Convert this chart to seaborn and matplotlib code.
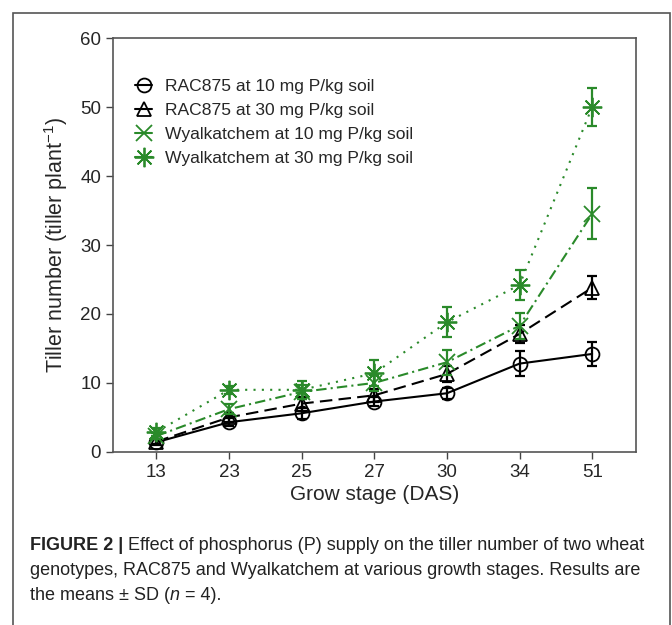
import matplotlib
matplotlib.use("Agg")
import matplotlib.pyplot as plt
from matplotlib.lines import Line2D
from matplotlib.patches import Rectangle
import pandas as pd
import seaborn as sns

# Grow stages (DAS) and treatment means / SD
stages = ['13', '23', '25', '27', '30', '34', '51']
rac10_mean = [1.4, 4.3, 5.6, 7.3, 8.5, 12.8, 14.2]
rac10_sd = [0.4, 0.6, 0.8, 0.6, 0.8, 1.8, 1.7]
rac30_mean = [1.5, 5.0, 7.0, 8.2, 11.3, 17.1, 23.8]
rac30_sd = [0.4, 0.7, 1.0, 0.9, 1.2, 1.3, 1.7]
wy10_mean = [2.3, 6.2, 8.7, 10.0, 13.0, 18.3, 34.5]
wy10_sd = [0.5, 0.7, 1.0, 1.2, 1.8, 1.9, 3.7]
wy30_mean = [2.9, 9.0, 9.0, 11.4, 18.8, 24.2, 50.0]
wy30_sd = [0.6, 0.6, 1.3, 1.9, 2.2, 2.2, 2.7]

labels = ['RAC875 at 10 mg P/kg soil', 'RAC875 at 30 mg P/kg soil',
          'Wyalkatchem at 10 mg P/kg soil', 'Wyalkatchem at 30 mg P/kg soil']
means = [rac10_mean, rac30_mean, wy10_mean, wy30_mean]
sds = [rac10_sd, rac30_sd, wy10_sd, wy30_sd]

green = '#2a8a2a'
palette = dict(zip(labels, ['black', 'black', green, green]))
markers = dict(zip(labels, ['o', '^', 'x', (8, 2, 0)]))
msizes = dict(zip(labels, [10, 10, 12, 14]))
linestyles = dict(zip(labels, ['-', (0, (6, 3)), (0, (5, 2, 1, 2)), (0, (1, 3))]))

rows = []
for lab, m, s in zip(labels, means, sds):
    for i, st in enumerate(stages):
        rows.append({'pos': i, 'stage': st, 'Treatment': lab, 'Tiller': m[i], 'SD': s[i]})
df = pd.DataFrame(rows)

sns.set_style('ticks')
plt.rcParams['font.family'] = ['Liberation Sans', 'DejaVu Sans']
plt.rcParams['mathtext.fontset'] = 'custom'
plt.rcParams['mathtext.rm'] = 'Liberation Sans'

fig = plt.figure(figsize=(6.72, 6.25), dpi=100)
ax = fig.add_axes([0.168, 0.277, 0.778, 0.662])

for lab in labels:
    sub = df[df['Treatment'] == lab]
    sns.lineplot(data=sub, x='pos', y='Tiller', color=palette[lab], marker=markers[lab],
                 linestyle=linestyles[lab], linewidth=1.5, markersize=msizes[lab],
                 markerfacecolor='none', markeredgecolor=palette[lab],
                 markeredgewidth=1.3, errorbar=None, ax=ax)
    ax.errorbar(sub['pos'], sub['Tiller'], yerr=sub['SD'], fmt='none',
                ecolor=palette[lab], elinewidth=1.6, capsize=3.5, capthick=1.6)

ax.set_xlim(-0.6, 6.6)
ax.set_ylim(0, 60)
ax.set_xticks(range(len(stages)))
ax.set_xticklabels(stages)
ax.set_yticks([0, 10, 20, 30, 40, 50, 60])
ax.tick_params(axis='both', labelsize=13.5, length=5, width=1, color='#444444')
for sp in ax.spines.values():
    sp.set_visible(True)
    sp.set_color('#555555')
    sp.set_linewidth(1.2)
ax.set_xlabel('Grow stage (DAS)', fontsize=15, labelpad=3)
ax.set_ylabel('Tiller number (tiller plant$^{-1}$)', fontsize=15.5, labelpad=7)

handles = [Line2D([], [], color=palette[l], marker=markers[l], markersize=msizes[l],
                  markerfacecolor='none', markeredgewidth=1.3, linewidth=1.5)
           for l in labels]
ax.legend(handles, labels, loc='upper left', bbox_to_anchor=(0.012, 0.94),
          frameon=False, fontsize=12.6, handlelength=1.0, handletextpad=0.7,
          labelspacing=0.5)

# outer frame around figure and caption
fig.patches.append(Rectangle((13 / 672, -0.05), (670 - 13) / 672, 1.05 - 13 / 625,
                             transform=fig.transFigure, fill=False,
                             edgecolor='#555555', linewidth=1.2))

# caption with mixed styles
cap_font = ['Liberation Sans Narrow', 'Liberation Sans', 'DejaVu Sans']
fs = 13
runs = [
    [('FIGURE 2 | ', 'bold', 'normal'),
     ('Effect of phosphorus (P) supply on the tiller number of two wheat', 'normal', 'normal')],
    [('genotypes, RAC875 and Wyalkatchem at various growth stages. Results are', 'normal', 'normal')],
    [('the means \u00b1 SD (', 'normal', 'normal'), ('n', 'normal', 'italic'),
     (' = 4).', 'normal', 'normal')],
]
fig.canvas.draw()
renderer = fig.canvas.get_renderer()
y0 = 1 - 545 / 625
dy = 25.5 / 625
for li, line_runs in enumerate(runs):
    x = 30 / 672
    for txt, weight, style in line_runs:
        t = fig.text(x, y0 - li * dy, txt, fontsize=fs, family=cap_font,
                     weight=weight, style=style, color='#222222', va='center', ha='left')
        bb = t.get_window_extent(renderer=renderer)
        x += bb.width / fig.bbox.width

fig.savefig('out.png', dpi=100)
